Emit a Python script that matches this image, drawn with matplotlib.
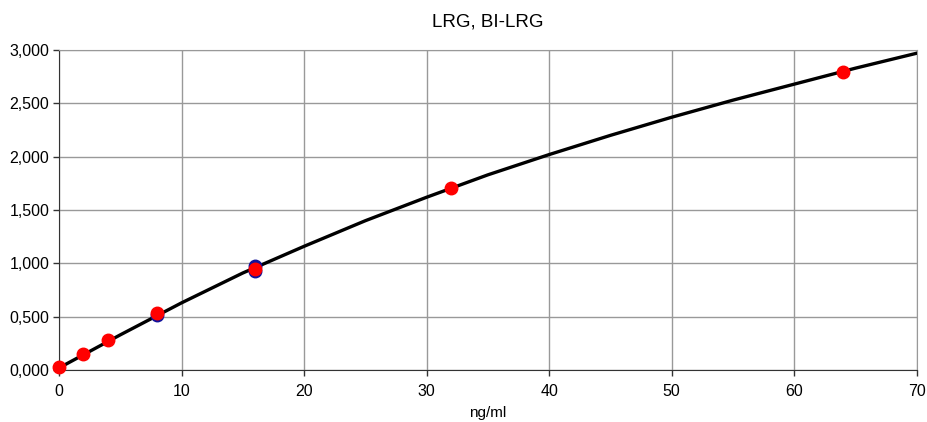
import matplotlib.pyplot as plt
from matplotlib.ticker import FuncFormatter, MultipleLocator

# Standard points (ng/ml vs OD)
conc_red = [0, 2, 4, 8, 16, 32, 64]
od_red = [0.025, 0.15, 0.28, 0.535, 0.945, 1.705, 2.79]
conc_blue = [8, 16, 16]
od_blue = [0.52, 0.975, 0.93]

# Fitted curve
fit_x = [0, 5, 10, 15, 20, 25, 30, 35, 40, 45, 50, 55, 60, 65, 70]
fit_y = [0.02, 0.33, 0.63, 0.91, 1.16, 1.40, 1.62, 1.83, 2.02, 2.20, 2.37, 2.53, 2.68, 2.83, 2.97]

plt.rcParams['font.family'] = ['Liberation Sans', 'DejaVu Sans']

fig = plt.figure(figsize=(9.27, 4.22), dpi=100)
ax = fig.add_axes([0.0636, 0.123, 0.9254, 0.7585])

ax.plot(fit_x, fit_y, color='black', lw=2.4, zorder=3)
ax.plot(conc_blue, od_blue, 'o', color='#10109a', ms=9, zorder=4, clip_on=False)
ax.plot(conc_red, od_red, 'o', color='#ff0000', ms=9, zorder=5, clip_on=False)

ax.set_xlim(0, 70)
ax.set_ylim(0, 3)
ax.xaxis.set_major_locator(MultipleLocator(10))
ax.yaxis.set_major_locator(MultipleLocator(0.5))
ax.yaxis.set_major_formatter(FuncFormatter(lambda v, p: f"{v:,.3f}".replace('.', ',')))
ax.grid(True, color='#999999', lw=1)
ax.set_axisbelow(True)

for side in ['top', 'right']:
    ax.spines[side].set_color('#999999')
for side in ['left', 'bottom']:
    ax.spines[side].set_color('#333333')
ax.tick_params(direction='out', length=4, width=1, color='#333333', labelsize=11.5)
ax.tick_params(axis='x', pad=6)
ax.tick_params(axis='y', pad=3)

ax.set_title('LRG, BI-LRG', fontsize=13.5, pad=17)
ax.set_xlabel('ng/ml', fontsize=11, labelpad=5)

plt.savefig('out.png', dpi=100)
